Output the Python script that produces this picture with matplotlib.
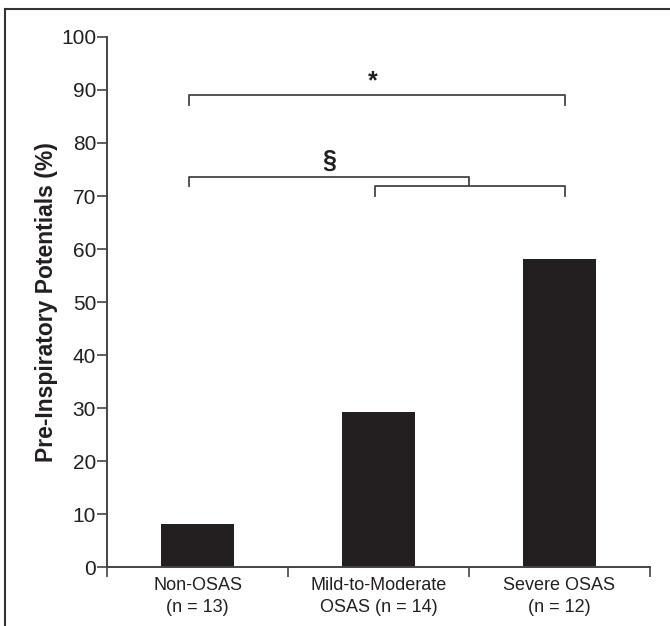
import matplotlib
matplotlib.use("Agg")
import matplotlib.pyplot as plt
from matplotlib.lines import Line2D

FONT = ["Liberation Sans", "DejaVu Sans"]
plt.rcParams["font.family"] = FONT

groups = ["Non-OSAS\n(n = 13)", "Mild-to-Moderate\nOSAS (n = 14)", "Severe OSAS\n(n = 12)"]
values = [8.2, 29.2, 58.1]
y_ticks = [0, 10, 20, 30, 40, 50, 60, 70, 80, 90, 100]

# significance brackets: (x_start, x_end, y, drop, label, label_x, label_y)
brackets = [
    (-0.05, 2.03, 89.0, 1.8, "*", 0.97, 89.4),
    (-0.05, 1.50, 73.6, 1.8, "\u00a7", 0.73, 74.4),
    (0.98, 2.03, 71.8, 1.8, "", 0, 0),
]

INK = "#231f20"
LINE = "#444444"

fig = plt.figure(figsize=(6.7, 6.26), dpi=100)
ax = fig.add_axes([0.160, 0.094, 0.810, 0.847])

x = list(range(len(groups)))
ax.bar(x, values, width=0.4, color=INK, zorder=2)

ax.set_xlim(-0.5, 2.5)
ax.set_ylim(0, 100)
ax.set_yticks(y_ticks)
ax.set_xticks([-0.5, 0.5, 1.5, 2.5])
ax.set_xticklabels([])
ax.set_xticks(x, minor=True)
ax.set_xticklabels(groups, minor=True, fontsize=13, color=INK, linespacing=1.4)
ax.tick_params(axis="x", which="minor", length=0, pad=7)
ax.tick_params(axis="x", which="major", length=7, width=1.2, color=LINE, direction="out")
ax.tick_params(axis="y", length=7, width=1.2, color=LINE, labelsize=15, labelcolor=INK, pad=1)

for side in ("top", "right"):
    ax.spines[side].set_visible(False)
for side in ("left", "bottom"):
    ax.spines[side].set_color(LINE)
    ax.spines[side].set_linewidth(1.4)

ax.set_ylabel("Pre-Inspiratory Potentials (%)", fontsize=16.5, fontweight="bold",
              color=INK, labelpad=2)

for x0, x1, y, drop, label, lx, ly in brackets:
    ax.plot([x0, x0, x1, x1], [y - drop, y, y, y - drop], color=LINE, lw=1.3, clip_on=False)
    if label:
        ax.text(lx, ly, label, ha="center", va="bottom", fontsize=18, fontweight="bold",
                color=INK)

# frame around the figure (top and left edges visible in the reference)
fig.add_artist(Line2D([0.007, 1.0], [0.986, 0.986], transform=fig.transFigure, color="#333333", lw=1.5))
fig.add_artist(Line2D([0.007, 0.007], [0.0, 0.986], transform=fig.transFigure, color="#333333", lw=1.5))

fig.savefig("out.png", dpi=100, facecolor="white")
